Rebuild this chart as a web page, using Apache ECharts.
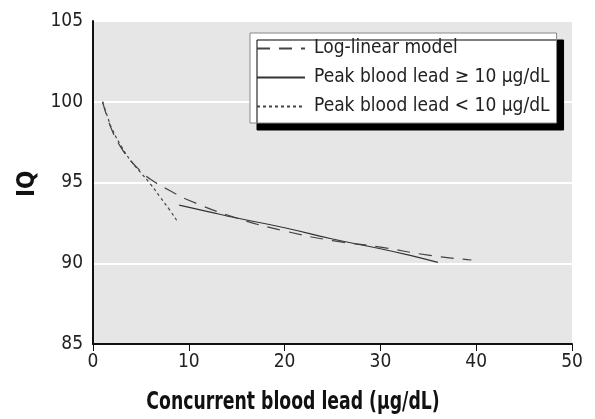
<!DOCTYPE html>
<html>
<head>
<meta charset="utf-8">
<script src="https://cdn.jsdelivr.net/npm/echarts@6/dist/echarts.min.js"></script>
<style>
  html, body { margin: 0; padding: 0; background: #fff; }
  #chart { width: 595px; height: 419px; }
</style>
</head>
<body>
<div id="chart"></div>
<script>
// values
const xTicks = [0, 10, 20, 30, 40, 50]
const yTicks = [85, 90, 95, 100, 105]

const logLinear = [
  [1, 100], [2, 98.2], [3, 97.1], [4, 96.3], [5, 95.7], [6, 95.2], [8, 94.5],
  [10, 93.9], [15, 92.8], [20, 92.0], [25, 91.4], [30, 91.0], [35, 90.5], [39.5, 90.2]
]
const peakHigh = [
  [9, 93.6], [12, 93.2], [15, 92.8], [20, 92.2], [25, 91.5], [30, 90.9], [33, 90.5], [36, 90.05]
]
const peakLow = [
  [1, 100], [1.5, 99.1], [2, 98.3], [3, 97.2], [4, 96.3], [5, 95.6], [6, 94.9],
  [7, 94.1], [8, 93.3], [8.8, 92.6]
]

const names = ['Log-linear model', 'Peak blood lead \u2265 10 \u00b5g/dL', 'Peak blood lead < 10 \u00b5g/dL']
const font = "'Liberation Sans Narrow', 'DejaVu Sans Condensed', sans-serif"

const chart = echarts.init(document.getElementById('chart'))
chart.setOption({
  animation: false,
  textStyle: { fontFamily: font, color: '#222' },
  grid: {
    left: 93, right: 23, top: 21, bottom: 75,
    show: true, backgroundColor: '#e6e6e6', borderWidth: 0
  },
  legend: {
    data: names,
    orient: 'vertical',
    left: 250, top: 33,
    padding: [5, 7, 6, 6],
    itemWidth: 48, itemHeight: 14, itemGap: 8,
    itemStyle: { opacity: 0 },
    backgroundColor: '#fff',
    borderColor: '#888', borderWidth: 1,
    shadowColor: '#000', shadowBlur: 0, shadowOffsetX: 7, shadowOffsetY: 7,
    textStyle: { fontFamily: font, fontSize: 19, lineHeight: 21, color: '#222', padding: [0, 0, 0, 4] }
  },
  xAxis: {
    type: 'value', min: 0, max: 50, interval: 10,
    axisLine: { lineStyle: { color: '#111', width: 2 } },
    axisTick: { show: true, length: 7, lineStyle: { color: '#111', width: 1 } },
    axisLabel: { fontSize: 19, color: '#222', margin: 9, fontFamily: font,
      formatter: v => xTicks.includes(v) ? String(v) : '' },
    splitLine: { show: false }
  },
  yAxis: {
    type: 'value', min: 85, max: 105, interval: 5,
    axisLine: { show: true, lineStyle: { color: '#111', width: 2 } },
    axisTick: { show: false },
    axisLabel: { fontSize: 19, color: '#222', margin: 10, fontFamily: font,
      formatter: v => yTicks.includes(v) ? String(v) : '' },
    splitLine: { show: true, lineStyle: { color: '#fff', width: 2 } }
  },
  graphic: [
    { type: 'text', x: 293, y: 391, scaleX: 0.8,
      style: { text: 'Concurrent blood lead (\u00b5g/dL)', font: 'bold 24px ' + font,
        fill: '#111', textAlign: 'center' } },
    { type: 'text', x: 16, y: 197, rotation: Math.PI / 2,
      style: { text: 'IQ', font: 'bold 24px ' + font, fill: '#111' } }
  ],
  series: [
    { name: names[0], type: 'line', data: logLinear, symbol: 'none', smooth: true, color: '#444',
      lineStyle: { color: '#444', width: 1.2, type: [13, 9] } },
    { name: names[1], type: 'line', data: peakHigh, symbol: 'none', smooth: true, color: '#333',
      lineStyle: { color: '#333', width: 1.2, type: 'solid' } },
    { name: names[2], type: 'line', data: peakLow, symbol: 'none', smooth: true, color: '#444',
      lineStyle: { color: '#444', width: 1.2, type: [3, 3] } }
  ]
})
</script>
</body>
</html>
